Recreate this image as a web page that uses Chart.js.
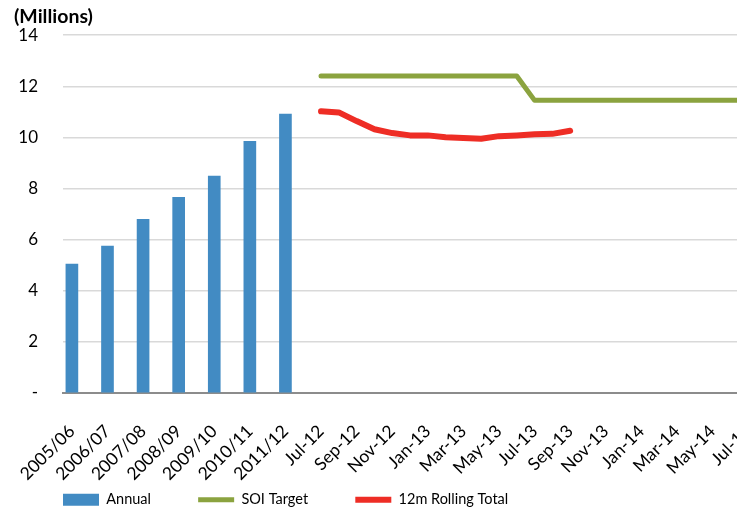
<!DOCTYPE html>
<html>
<head>
<meta charset="utf-8">
<script src="https://cdn.jsdelivr.net/npm/chart.js@4/dist/chart.umd.min.js"></script>
<style>
  html, body { margin: 0; padding: 0; background: #fff; }
  #wrap { width: 737px; height: 512px; overflow: hidden; }
</style>
</head>
<body>
<div id="wrap">
  <canvas id="soiChart" width="757" height="512"></canvas>
</div>
<script>
// annual totals (millions)
const annualLabels = ['2005/06', '2006/07', '2007/08', '2008/09', '2009/10', '2010/11', '2011/12'];
const annualValues = [5.04, 5.75, 6.8, 7.66, 8.49, 9.85, 10.91];

// monthly axis Jul-12 .. Jul-14
const monthLabels = ['Jul-12', 'Aug-12', 'Sep-12', 'Oct-12', 'Nov-12', 'Dec-12',
  'Jan-13', 'Feb-13', 'Mar-13', 'Apr-13', 'May-13', 'Jun-13',
  'Jul-13', 'Aug-13', 'Sep-13', 'Oct-13', 'Nov-13', 'Dec-13',
  'Jan-14', 'Feb-14', 'Mar-14', 'Apr-14', 'May-14', 'Jun-14', 'Jul-14'];
const soiTarget = [12.4, 12.4, 12.4, 12.4, 12.4, 12.4, 12.4, 12.4, 12.4, 12.4, 12.4, 12.4,
  11.45, 11.45, 11.45, 11.45, 11.45, 11.45, 11.45, 11.45, 11.45, 11.45, 11.45, 11.45, 11.45];
const rollingTotal = [11.02, 10.98, 10.64, 10.32, 10.17, 10.08, 10.08, 10.01, 9.98, 9.95,
  10.05, 10.08, 10.12, 10.14, 10.26];

const yTicks = [0, 2, 4, 6, 8, 10, 12, 14];

// each annual bar takes two slots on the axis, months take one
const categories = [];
const barData = [];
annualLabels.forEach((lbl, i) => {
  categories.push(lbl, '');
  barData.push(annualValues[i], null);
});
const offsetMonths = categories.length;
monthLabels.forEach(m => categories.push(m));
const soiData = categories.map((c, i) => i < offsetMonths ? null : soiTarget[i - offsetMonths]);
const rollData = categories.map((c, i) => {
  const v = rollingTotal[i - offsetMonths];
  return i < offsetMonths || v === undefined ? null : v;
});

const FONT = 'Lato, "Open Sans", sans-serif';
Chart.defaults.font.family = FONT;
Chart.defaults.color = '#000';

// extra room after legend text (en spaces) to spread the legend out
const EN = '\u2002';
const legendGap = [EN.repeat(6) + ' ', EN.repeat(6) + ' ', ''];

new Chart(document.getElementById('soiChart'), {
  type: 'bar',
  data: {
    labels: categories,
    datasets: [
      {
        label: 'Annual',
        data: barData,
        backgroundColor: '#428bc3',
        barThickness: 12,
        pointStyle: 'rect'
      },
      {
        type: 'line',
        label: 'SOI Target',
        data: soiData,
        borderColor: '#8ba33f',
        backgroundColor: '#8ba33f',
        borderWidth: 5,
        pointRadius: 0,
        pointStyle: 'line',
        tension: 0,
        borderCapStyle: 'round',
        borderJoinStyle: 'round'
      },
      {
        type: 'line',
        label: '12m Rolling Total',
        data: rollData,
        borderColor: '#ee2d25',
        backgroundColor: '#ee2d25',
        borderWidth: 6,
        pointRadius: 0,
        pointStyle: 'line',
        tension: 0,
        borderCapStyle: 'round',
        borderJoinStyle: 'round'
      }
    ]
  },
  options: {
    responsive: false,
    animation: false,
    layout: { padding: { left: 14, right: 0, top: 0, bottom: -5 } },
    scales: {
      x: {
        grid: { display: false },
        border: { color: '#8c8c8c', width: 2 },
        ticks: {
          autoSkip: false,
          minRotation: 45,
          maxRotation: 45,
          padding: 20,
          font: { size: 17.5 },
          callback: (val, idx) => idx % 2 === 0 ? categories[idx] : ''
        },
        afterFit: (scale) => {
          scale.height -= 12;
          // first rotated label may hang into the left margin
          scale.paddingLeft = 0;
          scale.paddingRight = 0;
        }
      },
      y: {
        min: 0,
        max: 14,
        afterBuildTicks: (scale) => { scale.ticks = yTicks.map(v => ({ value: v })); },
        afterFit: (scale) => { scale.width = 49; },
        grid: { color: '#d9d9d9', lineWidth: 1.5, drawTicks: false },
        border: { display: false },
        ticks: {
          padding: 25,
          font: { size: 17 },
          callback: (v) => v === 0 ? '-' : v
        }
      }
    },
    plugins: {
      title: {
        display: true,
        text: '(Millions)',
        align: 'start',
        font: { size: 19.5, weight: 'bold' },
        padding: { top: 4, bottom: 7 }
      },
      legend: {
        position: 'bottom',
        align: 'start',
        fullSize: false,
        labels: {
          usePointStyle: true,
          pointStyleWidth: 36,
          boxHeight: 12,
          padding: 0,
          font: { size: 14.5 },
          generateLabels: (chart) => {
            const items = Chart.defaults.plugins.legend.labels.generateLabels(chart);
            items.forEach((it, i) => { it.text = it.text + legendGap[i]; });
            return items;
          }
        }
      },
      tooltip: { enabled: false }
    }
  }
});
</script>
</body>
</html>
